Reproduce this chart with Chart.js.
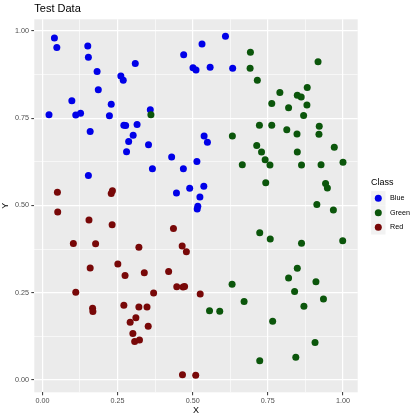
<!DOCTYPE html>
<html><head><meta charset="utf-8">
<script src="https://cdn.jsdelivr.net/npm/chart.js@4"></script>
<style>html,body{margin:0;padding:0;background:#fff;}#wrap{width:420px;height:420px;}</style>
</head><body><div id="wrap"><canvas id="c" width="420" height="420"></canvas></div>
<script>
const chartTitle = 'Test Data';
const xTitle = 'X';
const yTitle = 'Y';
const legendTitle = 'Class';
const classNames = ['Blue', 'Green', 'Red'];
const classColors = ['#0000E8', '#0B560B', '#780808'];

const blueX = [0.040,0.048,0.151,0.153,0.182,0.186,0.309,0.261,0.269,0.098,0.229,0.022,0.111,0.127,0.223,0.359,0.271,0.277,0.315,0.159,0.302,0.287,0.280,0.353,0.430,0.366,0.153,0.470,0.531,0.501,0.511,0.558,0.609,0.633,0.538,0.549,0.469,0.514,0.446,0.490,0.537,0.524,0.517,0.515];
const blueY = [0.980,0.953,0.957,0.925,0.884,0.832,0.907,0.871,0.859,0.800,0.790,0.760,0.759,0.764,0.757,0.774,0.730,0.729,0.732,0.712,0.701,0.683,0.654,0.674,0.639,0.605,0.586,0.932,0.963,0.895,0.888,0.896,0.985,0.893,0.699,0.681,0.605,0.626,0.536,0.549,0.555,0.524,0.498,0.490];

const greenX = [0.361,0.692,0.917,0.691,0.715,0.790,0.881,0.848,0.861,0.763,0.819,0.880,0.869,0.722,0.763,0.813,0.847,0.921,0.920,0.632,0.713,0.729,0.848,0.971,0.741,0.757,0.665,0.862,0.927,1.000,0.743,0.942,0.948,0.913,0.968,0.723,0.758,0.862,0.999,0.848,0.819,0.910,0.631,0.839,0.935,0.671,0.870,0.556,0.590,0.766,0.907,0.843,0.723];
const greenY = [0.760,0.939,0.912,0.893,0.859,0.824,0.838,0.816,0.811,0.792,0.780,0.788,0.758,0.730,0.730,0.717,0.705,0.727,0.704,0.699,0.672,0.653,0.653,0.667,0.631,0.616,0.617,0.616,0.617,0.624,0.565,0.563,0.550,0.503,0.487,0.422,0.404,0.392,0.399,0.320,0.292,0.281,0.274,0.253,0.232,0.225,0.211,0.198,0.197,0.168,0.107,0.065,0.055];

const redX = [0.050,0.051,0.229,0.233,0.155,0.232,0.436,0.103,0.177,0.321,0.465,0.479,0.251,0.159,0.275,0.339,0.420,0.111,0.370,0.447,0.468,0.473,0.525,0.271,0.321,0.348,0.167,0.168,0.311,0.292,0.352,0.301,0.307,0.323,0.466,0.510];
const redY = [0.538,0.481,0.534,0.542,0.458,0.445,0.434,0.391,0.390,0.380,0.384,0.367,0.332,0.321,0.299,0.307,0.311,0.251,0.249,0.267,0.266,0.268,0.246,0.214,0.209,0.209,0.205,0.196,0.178,0.165,0.154,0.133,0.110,0.114,0.015,0.013];

const tickValues = [0, 0.25, 0.5, 0.75, 1];
const tickLabels = ['0.00', '0.25', '0.50', '0.75', '1.00'];
const minorTickValues = [0.125, 0.375, 0.625, 0.875];

const FONT = '"Liberation Sans", Arial, sans-serif';
const allTicks = tickValues.concat(minorTickValues).sort((a, b) => a - b);
const isMajor = v => tickValues.indexOf(v) >= 0;

function expanded(arrs) {
  const all = [].concat(...arrs);
  const lo = Math.min(...all), hi = Math.max(...all);
  const pad = (hi - lo) * 0.05;
  return [lo - pad, hi + pad];
}
const xr = expanded([blueX, greenX, redX]);
const yr = expanded([blueY, greenY, redY]);

function axisOpts(title, isX, range) {
  return {
    type: 'linear', position: isX ? 'bottom' : 'left', min: range[0], max: range[1],
    afterBuildTicks: ax => { ax.ticks = allTicks.map(v => ({ value: v })); },
    afterFit: ax => { if (isX) ax.height = 27.7; else ax.width = 34.3; },
    ticks: {
      autoSkip: false, maxRotation: 0, minRotation: 0, padding: isX ? 1 : 2.3,
      color: '#4D4D4D', font: { family: FONT, size: 7.2 },
      callback: v => { const i = tickValues.indexOf(v); return i >= 0 ? tickLabels[i] : ''; }
    },
    grid: {
      color: '#FFFFFF',
      lineWidth: c => (c.tick && isMajor(c.tick.value)) ? 1.2 : 0.6,
      drawTicks: true, tickLength: 3, tickWidth: 1,
      tickColor: c => (c.tick && isMajor(c.tick.value)) ? '#333333' : 'rgba(0,0,0,0)'
    },
    border: { display: false },
    title: { display: true, text: title, color: '#000', font: { family: FONT, size: 9 },
      padding: isX ? { top: 0, bottom: 4 } : { top: 0.6, bottom: 0 } }
  };
}

const panelBg = {
  id: 'panelBg',
  beforeDraw(chart) {
    const { ctx, chartArea: a } = chart;
    ctx.save(); ctx.fillStyle = '#EBEBEB';
    ctx.fillRect(a.left, a.top, a.right - a.left, a.bottom - a.top);
    ctx.restore();
  }
};

const ggLegend = {
  id: 'ggLegend',
  afterDraw(chart) {
    const ctx = chart.ctx;
    ctx.save();
    ctx.textBaseline = 'middle'; ctx.textAlign = 'left';
    ctx.fillStyle = '#000';
    ctx.font = '9px ' + FONT;
    ctx.fillText(legendTitle, 371, 182.7);
    classNames.forEach((name, i) => {
      const cy = 198.3 + i * 14.5;
      ctx.fillStyle = '#F2F2F2';
      ctx.fillRect(371.1, cy - 7.2, 14.4, 14.4);
      ctx.fillStyle = classColors[i];
      ctx.beginPath(); ctx.arc(378.3, cy, 3.5, 0, Math.PI * 2); ctx.fill();
      ctx.fillStyle = '#000';
      ctx.font = '7.2px ' + FONT;
      ctx.fillText(name, 390, cy);
    });
    ctx.restore();
  }
};

const seriesX = [blueX, greenX, redX];
const seriesY = [blueY, greenY, redY];
const datasets = classNames.map((name, i) => ({
  label: name,
  data: seriesX[i].map((x, j) => ({ x: x, y: seriesY[i][j] })),
  backgroundColor: classColors[i],
  borderColor: classColors[i],
  pointRadius: 3.5, pointHoverRadius: 3.5, pointBorderWidth: 0,
  order: i === 0 ? 2 : (i === 1 ? 1 : 0)
}));

new Chart(document.getElementById('c'), {
  type: 'scatter',
  data: { datasets: datasets },
  options: {
    responsive: false, animation: false,
    layout: { padding: { top: 0, right: 62.3, bottom: 0, left: 0 } },
    plugins: {
      legend: { display: false },
      tooltip: { enabled: false },
      title: { display: true, text: chartTitle, align: 'start', fullSize: false, color: '#000',
        font: { family: FONT, size: 11, weight: 'normal' }, padding: { top: 2.2, bottom: 3.9 } }
    },
    scales: { x: axisOpts(xTitle, true, xr), y: axisOpts(yTitle, false, yr) }
  },
  plugins: [panelBg, ggLegend]
});
</script>
</body></html>
